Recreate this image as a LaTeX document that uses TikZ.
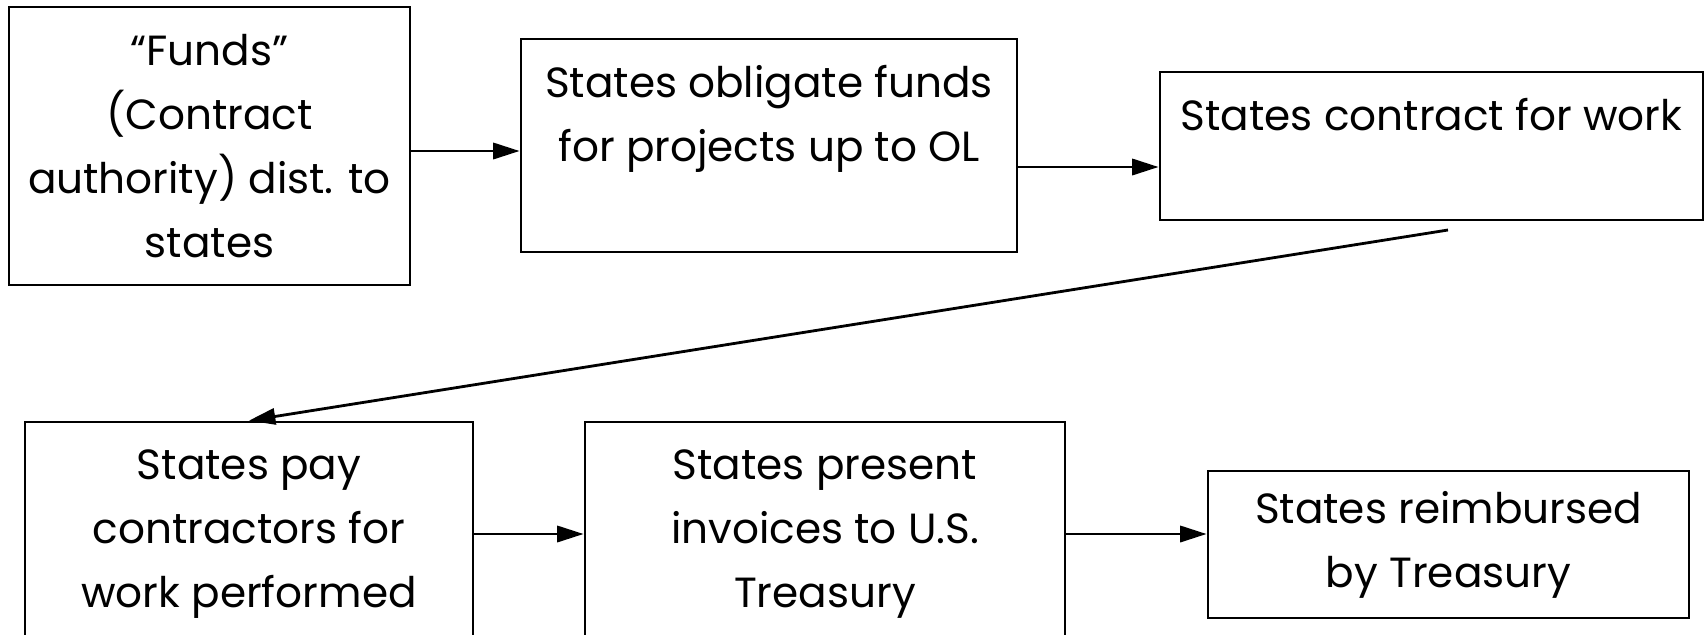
\documentclass[tikz,border=0pt]{standalone}
\usepackage{fontspec}
\setmainfont{Poppins}
\usetikzlibrary{arrows.meta}

\begin{document}
\begin{tikzpicture}[
    box/.style={draw, line width=0.8pt, align=center, inner sep=0pt,
        font=\fontsize{12}{18.2}\selectfont},
    arr/.style={line width=0.8pt, -{Triangle[length=7.5pt,width=4.6pt]}}
]
\useasboundingbox (0,0) rectangle (17.05,6.34);
% top row
\node[box, minimum width=4.01cm, minimum height=2.78cm] (funds) at (2.095,4.88)
    {“Funds”\\(Contract\\authority) dist. to\\states};
\node[box, minimum width=4.96cm, minimum height=2.13cm] (obligate) at (7.69,4.885)
    {States obligate funds\\for projects up to OL\\\mbox{}};
\node[box, minimum width=5.43cm, minimum height=1.48cm] (contract) at (14.315,4.88)
    {States contract for work\\\mbox{}};
% bottom row
\node[box, minimum width=4.48cm, minimum height=2.24cm] (pay) at (2.49,1.00)
    {States pay\\contractors for\\work performed};
\node[box, minimum width=4.80cm, minimum height=2.24cm] (present) at (8.25,1.00)
    {States present\\invoices to U.S.\\Treasury};
\node[box, minimum width=4.81cm, minimum height=1.47cm] (reimb) at (14.485,0.895)
    {States reimbursed\\by Treasury};
\coordinate (turn) at (14.48,4.04);

\draw[arr] (funds.east |- 0,4.83) -- (obligate.west |- 0,4.83);
\draw[arr] (obligate.east |- 0,4.67) -- (contract.west |- 0,4.67);
\draw[arr] (turn) -- (pay.north);
\draw[arr] (pay.east) -- (present.west);
\draw[arr] (present.east) -- (reimb.west |- present.east);
\end{tikzpicture}
\end{document}
